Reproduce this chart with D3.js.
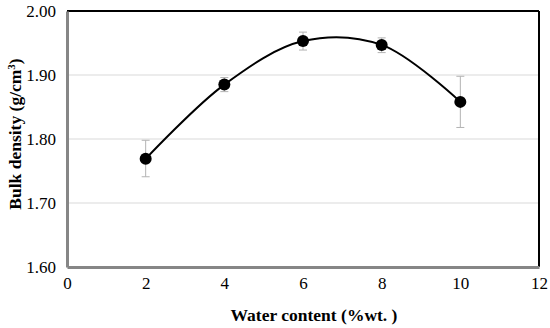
<!DOCTYPE html>
<html>
<head>
<meta charset="utf-8">
<script src="https://cdn.jsdelivr.net/npm/d3@7"></script>
<style>
  body { margin: 0; background: #fff; }
</style>
</head>
<body>
<div id="chart"></div>
<script>
// Data
var waterContent = [2, 4, 6, 8, 10];
var bulkDensity = [1.769, 1.885, 1.953, 1.947, 1.858];
var errorLow = [1.741, 1.874, 1.939, 1.935, 1.818];
var errorHigh = [1.798, 1.896, 1.967, 1.958, 1.898];
var xTicks = [0, 2, 4, 6, 8, 10, 12];
var yTicks = [1.6, 1.7, 1.8, 1.9, 2.0];

var serif = '"Liberation Serif"';

var width = 550;
var height = 328;
var margins = { top: 11, right: 11, bottom: 61, left: 67 };
var chartWidth = width - margins.left - margins.right;
var chartHeight = height - margins.top - margins.bottom;

var svg = d3.select("#chart")
  .append("svg")
  .attr("width", width)
  .attr("height", height);

var chartElement = svg.append("g")
  .attr("transform", `translate(${margins.left},${margins.top})`);

var xScale = d3.scaleLinear().domain([0, 12]).range([0, chartWidth]);
var yScale = d3.scaleLinear().domain([1.6, 2.0]).range([chartHeight, 0]);

// Grid lines
chartElement.append("g")
  .selectAll("line")
  .data(yTicks.filter(d => d > 1.6 && d < 2.0))
  .enter()
  .append("line")
  .attr("x1", 0)
  .attr("x2", chartWidth)
  .attr("y1", d => yScale(d))
  .attr("y2", d => yScale(d))
  .attr("stroke", "#d9d9d9")
  .attr("stroke-width", 1.2);

// Frame: black top and right, gray left and bottom
chartElement.append("line")
  .attr("x1", 0).attr("x2", chartWidth)
  .attr("y1", yScale(2.0)).attr("y2", yScale(2.0))
  .attr("stroke", "#000").attr("stroke-width", 2);
chartElement.append("line")
  .attr("x1", chartWidth).attr("x2", chartWidth)
  .attr("y1", 0).attr("y2", chartHeight)
  .attr("stroke", "#000").attr("stroke-width", 2);

// Axes
var xAxis = d3.axisBottom(xScale).tickValues(xTicks).tickSize(0).tickPadding(10)
  .tickFormat(d3.format("d"));
var yAxis = d3.axisLeft(yScale).tickValues(yTicks).tickSize(0).tickPadding(11)
  .tickFormat(d3.format(".2f"));

var xAxisG = chartElement.append("g")
  .attr("transform", `translate(0,${chartHeight})`)
  .call(xAxis);
var yAxisG = chartElement.append("g").call(yAxis);

[xAxisG, yAxisG].forEach(function(g) {
  g.select(".domain").attr("stroke", "#868686").attr("stroke-width", 3);
  g.selectAll("text")
    .attr("fill", "#000")
    .style("font-family", serif)
    .style("font-size", "17px");
});

// Error bars
var capHalf = 4;
var errors = chartElement.append("g").attr("class", "errors");
errors.selectAll("line.err")
  .data(waterContent)
  .enter()
  .append("line")
  .attr("x1", d => xScale(d))
  .attr("x2", d => xScale(d))
  .attr("y1", (d, i) => yScale(errorLow[i]))
  .attr("y2", (d, i) => yScale(errorHigh[i]))
  .attr("stroke", "#b3b3b3")
  .attr("stroke-width", 1);
[errorLow, errorHigh].forEach(function(arr) {
  errors.append("g")
    .selectAll("line")
    .data(waterContent)
    .enter()
    .append("line")
    .attr("x1", d => xScale(d) - capHalf)
    .attr("x2", d => xScale(d) + capHalf)
    .attr("y1", (d, i) => yScale(arr[i]))
    .attr("y2", (d, i) => yScale(arr[i]))
    .attr("stroke", "#b3b3b3")
    .attr("stroke-width", 1);
});

// Smoothed line
var points = waterContent.map((d, i) => [d, bulkDensity[i]]);
var line = d3.line()
  .x(d => xScale(d[0]))
  .y(d => yScale(d[1]))
  .curve(d3.curveCatmullRom.alpha(0.5));

chartElement.append("path")
  .datum(points)
  .attr("d", line)
  .attr("fill", "none")
  .attr("stroke", "#000")
  .attr("stroke-width", 2);

// Markers
chartElement.append("g")
  .selectAll("circle")
  .data(points)
  .enter()
  .append("circle")
  .attr("cx", d => xScale(d[0]))
  .attr("cy", d => yScale(d[1]))
  .attr("r", 6)
  .attr("fill", "#000");

// Axis titles
svg.append("text")
  .style("font-family", serif)
  .style("font-size", "17.5px")
  .style("font-weight", "bold")
  .attr("x", margins.left + chartWidth / 2 + 11)
  .attr("y", 321)
  .attr("text-anchor", "middle")
  .text("Water content (%wt. )");

var yTitle = svg.append("text")
  .style("font-family", serif)
  .style("font-size", "17.5px")
  .style("font-weight", "bold")
  .attr("transform", `translate(21,${margins.top + chartHeight / 2 - 5}) rotate(-90)`)
  .attr("text-anchor", "middle");
yTitle.append("tspan").text("Bulk density (g/cm");
yTitle.append("tspan").attr("dy", -6).style("font-size", "11px").text("3");
yTitle.append("tspan").attr("dy", 6).text(")");
</script>
</body>
</html>
